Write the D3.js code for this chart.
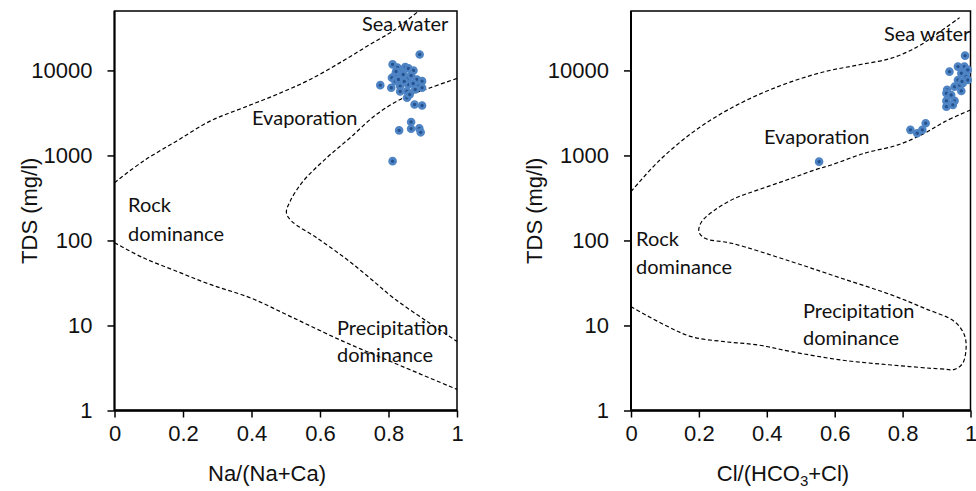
<!DOCTYPE html>
<html>
<head>
<meta charset="utf-8">
<script src="https://cdn.jsdelivr.net/npm/d3@7"></script>
<style>
  body { margin: 0; background: #fff; }
  svg { display: block; }
</style>
</head>
<body>
<script>
// width and height of the whole picture
var w = 976;
var h = 491;

// tick values
var xTicks = [0, 0.2, 0.4, 0.6, 0.8, 1];
var yTicks = [1, 10, 100, 1000, 10000];

// samples, left diagram: Na/(Na+Ca) and TDS
var naRatio = [0.891, 0.812, 0.831, 0.849, 0.858, 0.873, 0.820, 0.839, 0.858, 0.883,
               0.898, 0.810, 0.820, 0.834, 0.858, 0.888, 0.898, 0.808, 0.776, 0.854,
               0.878, 0.854, 0.876, 0.898, 0.866, 0.866, 0.831, 0.890, 0.894, 0.812,
               0.826, 0.843, 0.829, 0.846, 0.866, 0.872, 0.834, 0.822, 0.862];
var naTDS = [15400, 11770, 10280, 10940, 10560, 10000, 8970, 9400, 8200, 7830,
             7480, 8200, 7480, 6530, 6840, 6530, 6250, 6250, 6710, 5700,
             5970, 4780, 3980, 3870, 2470, 2060, 1970, 2080, 1870, 857,
             10840, 8970, 7830, 7430, 8730, 7030, 5660, 9730, 5200];

// samples, right diagram: Cl/(HCO3+Cl) and TDS
var clRatio = [0.984, 0.938, 0.963, 0.982, 0.973, 0.987, 0.963, 0.977, 0.953, 0.931,
               0.973, 0.929, 0.953, 0.929, 0.948, 0.929, 0.868, 0.858, 0.843, 0.823,
               0.554, 0.992, 0.968, 0.943, 0.992, 0.975];
var clTDS = [14930, 9680, 11090, 11090, 9270, 8450, 7730, 7060, 6440, 5900,
             5740, 5390, 4380, 4380, 3930, 3750, 2390, 2000, 1825, 2000,
             845, 10140, 6750, 5150, 7730, 7400];

// Gibbs boundaries, left diagram
var naUpper = [[0, 478], [0.084, 857], [0.181, 1473], [0.279, 2534], [0.376, 3640], [0.474, 5220],
               [0.571, 7830], [0.668, 13000], [0.746, 20200], [0.815, 29500], [0.888, 50000]];
var naInner = [[1, 8050], [0.922, 6250], [0.844, 4770], [0.765, 3040], [0.688, 1615], [0.620, 940],
               [0.551, 499], [0.513, 290], [0.502, 212], [0.517, 169], [0.591, 107], [0.678, 60],
               [0.746, 36], [0.815, 21], [0.912, 11.2], [1, 6.5]];
var naLower = [[0, 94], [0.084, 62.5], [0.181, 43.5], [0.279, 30.4], [0.396, 21.2], [0.522, 12.3],
               [0.668, 6.5], [0.815, 3.64], [1, 1.77]];

// Gibbs boundaries, right diagram
var clUpper = [[0, 375], [0.080, 845], [0.178, 1823], [0.276, 3275], [0.374, 5150], [0.473, 7380],
               [0.571, 9680], [0.669, 11600], [0.767, 13930], [0.845, 19070], [0.904, 27370], [0.968, 41800]];
var clInner = [[1, 3430], [0.924, 2500], [0.865, 1825], [0.786, 1330], [0.688, 1062], [0.590, 773],
               [0.541, 675], [0.473, 539], [0.374, 393], [0.306, 313], [0.247, 228], [0.208, 166],
               [0.200, 127], [0.218, 106], [0.296, 92.7], [0.473, 56.3], [0.620, 35.9], [0.767, 22.9],
               [0.865, 15.9], [0.953, 11.1], [0.982, 7.73], [0.987, 5.4], [0.977, 3.59], [0.953, 3.05],
               [0.914, 3.08], [0.767, 3.43], [0.620, 3.92], [0.473, 4.92], [0.374, 5.9], [0.276, 6.45],
               [0.178, 7.38], [0.1, 10.1], [0, 16.6]];

var svg = d3.select("body")
            .append("svg")
            .attr("width", w)
            .attr("height", h);

var axisFont = "Arial, 'Liberation Sans', sans-serif";

// one Gibbs panel
function drawPanel(p) {
  var x = d3.scaleLinear().domain([0, 1]).range([p.left, p.right]);
  var y = d3.scaleLog().domain([1, 50000]).range([p.bottom, p.top]);

  var g = svg.append("g");

  // frame
  g.append("rect")
   .attr("x", p.left).attr("y", p.top)
   .attr("width", p.right - p.left).attr("height", p.bottom - p.top)
   .attr("fill", "none").attr("stroke", "#000").attr("stroke-width", 1.5);

  // boundary curves
  var line = d3.line()
               .x(function(d) { return x(d[0]); })
               .y(function(d) { return y(d[1]); })
               .curve(d3.curveCatmullRom.alpha(0.5));
  p.curves.forEach(function(c) {
    g.append("path")
     .attr("d", line(c))
     .attr("fill", "none")
     .attr("stroke", "#000")
     .attr("stroke-width", 1.2)
     .attr("stroke-dasharray", "4,2.5");
  });

  // axes
  var xAxis = d3.axisBottom(x).tickValues(xTicks).tickFormat(d3.format("")).tickSize(7).tickPadding(8);
  var yAxis = d3.axisLeft(y).tickValues(yTicks).tickFormat(d3.format("")).tickSize(7).tickPadding(15);

  var gx = g.append("g").attr("transform", "translate(0," + p.bottom + ")").call(xAxis);
  var gy = g.append("g").attr("transform", "translate(" + p.left + ",0)").call(yAxis);
  [gx, gy].forEach(function(a) {
    a.attr("font-family", axisFont).attr("font-size", 22);
    a.select(".domain").remove();
    a.selectAll("line").attr("stroke", "#000").attr("stroke-width", 1.5);
    a.selectAll("text").attr("fill", "#111");
  });
  g.append("line").attr("x1", p.left).attr("x2", p.right).attr("y1", p.bottom).attr("y2", p.bottom)
   .attr("stroke", "#000").attr("stroke-width", 2.5);
  g.append("line").attr("x1", p.left).attr("x2", p.left).attr("y1", p.top).attr("y2", p.bottom)
   .attr("stroke", "#000").attr("stroke-width", 2);

  // points
  g.selectAll("circle.pt")
   .data(p.xs)
   .enter()
   .append("circle")
   .attr("class", "pt")
   .attr("cx", function(d) { return x(d); })
   .attr("cy", function(d, i) { return y(p.ys[i]); })
   .attr("r", 3)
   .attr("fill", "#24528f")
   .attr("stroke", "#4f84c4")
   .attr("stroke-width", 2.6);

  // region labels
  p.labels.forEach(function(l) {
    g.append("text")
     .attr("x", l[1]).attr("y", l[2])
     .text(l[0])
     .attr("fill", "#111")
     .style("font-family", "Lato, 'Open Sans', sans-serif")
     .style("font-size", "20px");
  });

  // axis titles
  g.append("text")
   .attr("transform", "translate(" + p.yTitleX + "," + ((p.top + p.bottom) / 2) + ") rotate(-90)")
   .attr("text-anchor", "middle")
   .attr("fill", "#111")
   .attr("font-family", axisFont)
   .attr("font-size", 22)
   .text("TDS (mg/l)");

  var xt = g.append("text")
            .attr("x", p.xTitleX).attr("y", 481)
            .attr("text-anchor", "middle")
            .attr("fill", "#111")
            .attr("font-family", axisFont)
            .attr("font-size", 22);
  p.xTitle(xt);
}

drawPanel({
  left: 114.5, right: 457, top: 11, bottom: 410.5,
  xs: naRatio, ys: naTDS,
  curves: [naUpper, naInner, naLower],
  labels: [["Sea water", 362, 31], ["Evaporation", 252, 125], ["Rock", 128, 212],
           ["dominance", 128, 241], ["Precipitation", 337, 335], ["dominance", 337, 362]],
  yTitleX: 37, xTitleX: 267,
  xTitle: function(t) { t.text("Na/(Na+Ca)"); }
});

drawPanel({
  left: 631, right: 970.5, top: 11, bottom: 410.5,
  xs: clRatio, ys: clTDS,
  curves: [clUpper, clInner],
  labels: [["Sea water", 884, 41], ["Evaporation", 764, 144], ["Rock", 636, 246],
           ["dominance", 636, 274], ["Precipitation", 803, 318], ["dominance", 803, 345]],
  yTitleX: 542, xTitleX: 783,
  xTitle: function(t) {
    t.append("tspan").text("Cl/(HCO");
    t.append("tspan").text("3").attr("dy", 5).attr("font-size", 15);
    t.append("tspan").text("+Cl)").attr("dy", -5);
  }
});
</script>
</body>
</html>
